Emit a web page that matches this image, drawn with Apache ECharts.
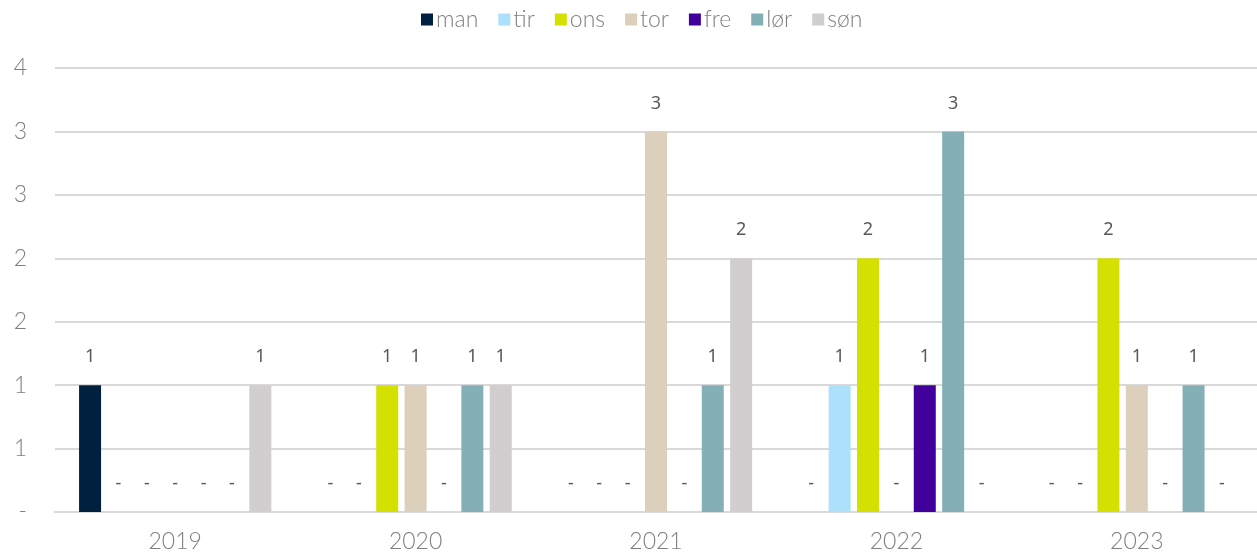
<!DOCTYPE html>
<html>
<head>
<meta charset="utf-8">
<script src="https://cdn.jsdelivr.net/npm/echarts@6/dist/echarts.min.js"></script>
<style>html,body{margin:0;padding:0;background:#fff}#c{width:1257px;height:559px}</style>
</head>
<body>
<div id="c"></div>
<script>
const categories = ['2019', '2020', '2021', '2022', '2023'];
const seriesNames = ['man', 'tir', 'ons', 'tor', 'fre', 'lør', 'søn'];
const man = [1, 0, 0, 0, 0];
const tir = [0, 0, 0, 1, 0];
const ons = [0, 1, 0, 2, 2];
const tor = [0, 1, 3, 0, 1];
const fre = [0, 0, 0, 1, 0];
const lor = [0, 1, 1, 3, 1];
const son = [1, 1, 2, 0, 0];
const seriesValues = [man, tir, ons, tor, fre, lor, son];
const colors = ['#00203F', '#ADE1FB', '#D4E100', '#DCCFBB', '#41009B', '#84AFB7', '#D0CECE'];

const thinFont = 'Lato';
const chart = echarts.init(document.getElementById('c'));
chart.setOption({
  animation: false,
  legend: {
    top: 3,
    left: 416,
    itemWidth: 12,
    itemHeight: 12,
    itemGap: 20,
    icon: 'rect',
    textStyle: { fontFamily: thinFont, fontWeight: 300, fontSize: 23, color: '#808080', padding: [0, 0, 0, -2] },
    data: seriesNames
  },
  grid: { left: 55, right: -1, top: 68, bottom: 47, containLabel: false },
  xAxis: {
    type: 'category',
    data: categories,
    axisLine: { show: true, lineStyle: { color: '#D9D9D9', width: 2 } },
    axisTick: { show: false },
    axisLabel: { fontFamily: thinFont, fontWeight: 300, fontSize: 23, color: '#7F7F7F', margin: 18 }
  },
  yAxis: {
    type: 'value',
    min: 0,
    max: 3.5,
    interval: 0.5,
    axisLine: { show: false },
    axisTick: { show: false },
    splitLine: { lineStyle: { color: '#D9D9D9', width: 2 } },
    axisLabel: {
      fontFamily: thinFont, fontWeight: 300, fontSize: 23, color: '#7F7F7F', margin: 28,
      formatter: v => v === 0 ? '-' : String(Math.round(v))
    }
  },
  series: seriesNames.map((n, i) => ({
    name: n,
    type: 'bar',
    data: seriesValues[i],
    barWidth: 22,
    barGap: '29%',
    itemStyle: { color: colors[i] },
    label: {
      show: true,
      position: 'top',
      distance: 19,
      fontFamily: 'Noto Sans',
      fontSize: 18,
      color: '#595959',
      formatter: p => p.value === 0 ? '-' : String(p.value)
    }
  }))
});
</script>
</body>
</html>
